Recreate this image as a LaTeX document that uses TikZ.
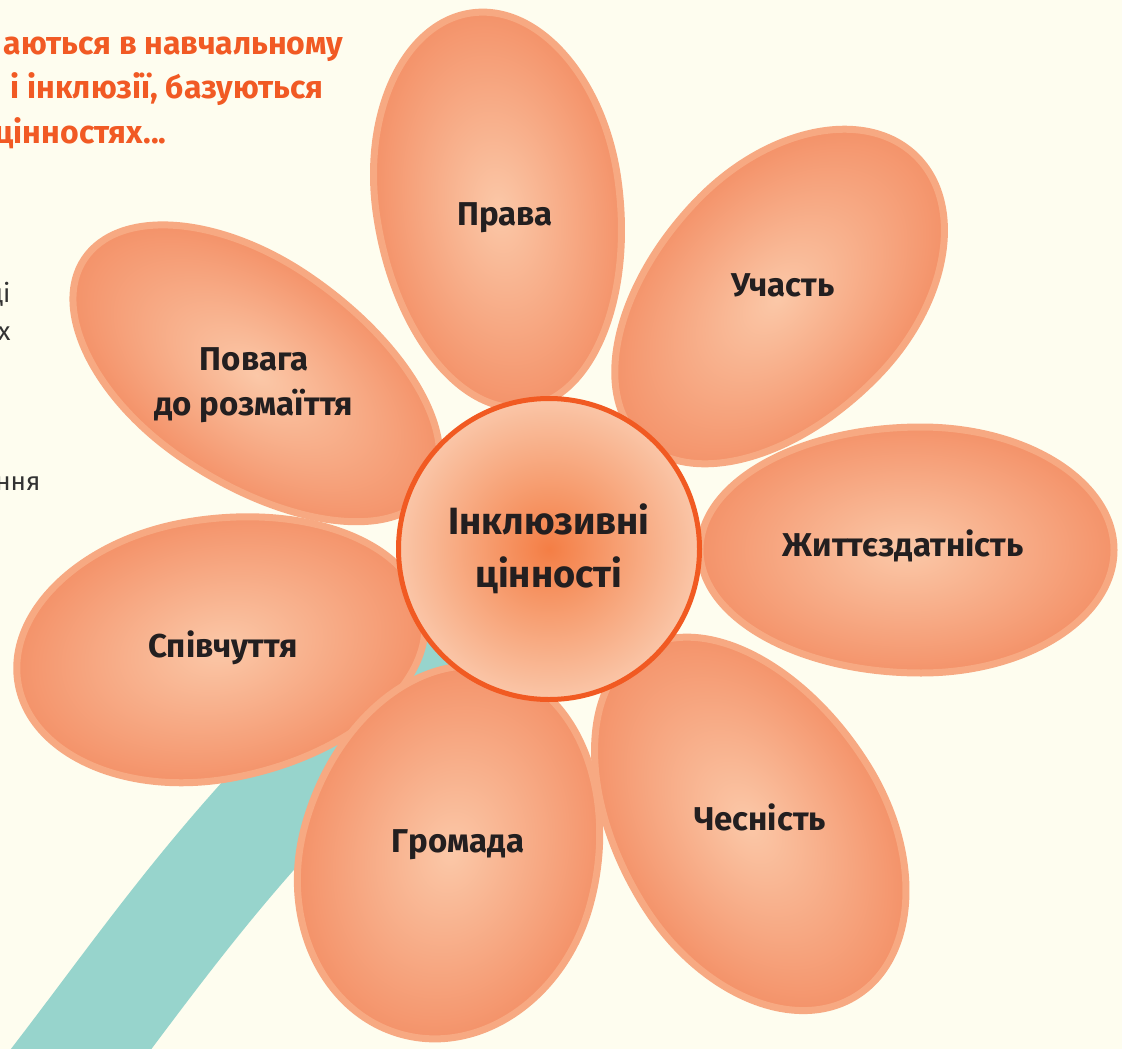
\documentclass[tikz,border=0pt]{standalone}
\usepackage{fontspec}
\setmainfont{Fira Sans}
\usetikzlibrary{positioning}
\definecolor{cream}{HTML}{FEFDEF}
\definecolor{stemteal}{HTML}{97D4CC}
\definecolor{petalrim}{HTML}{F7A982}
\definecolor{petaledge}{HTML}{F4936A}
\definecolor{petalmid}{HTML}{FBC8A8}
\definecolor{corered}{HTML}{F15A22}
\definecolor{coremid}{HTML}{F47E45}
\definecolor{coreedge}{HTML}{FAC6A8}
\definecolor{inkdark}{HTML}{231F20}
\definecolor{titleorange}{HTML}{F15A24}
\definecolor{sidegray}{HTML}{333333}
\tikzset{
  petal/.style={draw=petalrim, line width=7pt, inner color=petalmid, outer color=petaledge},
  petallabel/.style={font=\fontsize{33}{45}\selectfont\bfseries, text=inkdark, align=center},
  titleline/.style={anchor=base east, font=\fontsize{32}{38}\selectfont\bfseries, text=titleorange},
  sideline/.style={anchor=base east, font=\fontsize{26}{30}\selectfont, text=sidegray},
}
% egg shaped petal: centre, angle, half length, half width
\newcommand{\petalegg}[4]{%
  \begin{scope}[transform canvas={shift={#1}, rotate=#2}]
    \shade[petal] (14pt,-#4pt) arc[start angle=-90, end angle=90, x radius=#3pt-14pt, y radius=#4pt]
      arc[start angle=90, end angle=270, x radius=#3pt+14pt, y radius=#4pt] -- cycle;
  \end{scope}}

\begin{document}
\begin{tikzpicture}[x=1pt, y=-1pt]
  \fill[cream] (0,0) rectangle (1122,1049);
  \useasboundingbox (0,0) rectangle (1122,1049);

  % cut-off text on the left
  \node[titleline] (title1) at (347,55) {аються в навчальному};
  \node[titleline] (title2) at (327,99) {і інклюзії, базуються};
  \node[titleline] (title3) at (170,143) {цінностях...};
  \node[sideline] (side1) at (14,302) {ці};
  \node[sideline] (side2) at (14,340) {х};
  \node[sideline] (side3) at (44,490) {ння};

  % stem
  \draw[stemteal, line width=112pt] (50,1090) .. controls (170,935) and (260,790) .. (500,600);

  % petals
  \petalegg{(499,210)}{98}{199}{122}
  \petalegg{(257,375)}{146}{208}{111}
  \petalegg{(221,648)}{190}{206}{130}
  \petalegg{(778,298)}{46}{198}{126}
  \petalegg{(907,550)}{0}{207}{123}
  \petalegg{(748,823)}{-58}{204}{132}
  \petalegg{(451,852)}{-105}{189}{148}

  \node[circle, minimum size=301pt, draw=corered, line width=5pt, inner color=coremid, outer color=coreedge,
    font=\fontsize{38}{53}\selectfont\bfseries, text=inkdark, align=center] (core) at (549,549) {Інклюзивні\\цінності};

  \node[petallabel] (prava) at (505,218) {Права};
  \node[petallabel] (uchast) at (783,285) {Участь};
  \node[petallabel] (zhyttia) at (903,546) {Життєздатність};
  \node[petallabel] (chesnist) at (760,817) {Чесність};
  \node[petallabel] (hromada) at (458,845) {Громада};
  \node[petallabel] (spivchuttia) at (223,648) {Співчуття};
  \node[petallabel] (povaha) at (254,385) {Повага\\до розмаїття};
\end{tikzpicture}
\end{document}
